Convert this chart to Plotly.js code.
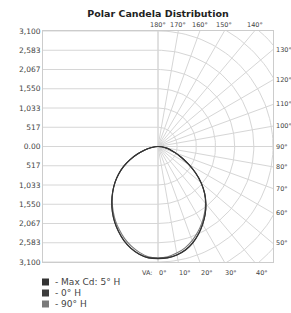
<!DOCTYPE html>
<html>
<head>
<meta charset="utf-8">
<script src="https://cdn.plot.ly/plotly-3.0.1.min.js"></script>
<style>html,body{margin:0;padding:0;background:#fff;}#chart{width:291px;height:313px;}</style>
</head>
<body>
<div id="chart"></div>
<script>
// ---- data ----
const chartTitle = "Polar Candela Distribution";
const maxCd = 3100;
const yTickValues = [-3100, -2583.33, -2066.67, -1550, -1033.33, -516.67, 0, 516.67, 1033.33, 1550, 2066.67, 2583.33, 3100];
const yTickLabels = ["3,100", "2,583", "2,067", "1,550", "1,033", "517", "0.00", "517", "1,033", "1,550", "2,067", "2,583", "3,100"];
const vAngles = [0, 5, 10, 15, 20, 25, 30, 35, 40, 45, 50, 55, 60, 65, 70, 75, 80, 85, 90];
const maxCdRight = [3010, 3000, 2955, 2875, 2750, 2590, 2410, 2220, 2010, 1780, 1520, 1240, 950, 700, 500, 340, 210, 100, 0];
const maxCdLeft  = [3010, 3000, 2935, 2830, 2690, 2520, 2340, 2145, 1940, 1730, 1520, 1300, 1070, 830, 590, 370, 200, 80, 0];
const zeroHRight = [3004, 2994, 2948, 2868, 2744, 2584, 2405, 2216, 2007, 1778, 1518, 1238, 948, 698, 499, 339, 209, 99, 0];
const zeroHLeft  = [3004, 2994, 2928, 2823, 2684, 2515, 2336, 2141, 1937, 1728, 1518, 1298, 1068, 828, 588, 369, 199, 79, 0];
const ninetyHRight = [2985, 2970, 2905, 2815, 2690, 2535, 2365, 2185, 1990, 1770, 1515, 1238, 948, 698, 499, 339, 209, 99, 0];
const ninetyHLeft  = [2985, 2970, 2885, 2770, 2630, 2465, 2295, 2110, 1920, 1722, 1515, 1298, 1068, 828, 588, 369, 199, 79, 0];
const seriesNames = ["Max Cd: 5° H", "0° H", "90° H"];
const seriesColors = ["#333333", "#3d3d3d", "#7a7a7a"];
const gridAngles = [0, 10, 20, 30, 40, 50, 60, 70, 80, 90, 100, 110, 120, 130, 140, 150, 160, 170, 180];
const bottomAngles = [0, 10, 20, 30, 40];
const bottomLabels = ["0°", "10°", "20°", "30°", "40°"];
const rightAngles = [50, 60, 70, 80, 90, 100, 110, 120, 130];
const rightLabels = ["50°", "60°", "70°", "80°", "90°", "100°", "110°", "120°", "130°"];
const topAngles = [140, 150, 160, 170, 180];
const topLabels = ["140°", "150°", "160°", "170°", "180°"];

// ---- helpers ----
const rad = d => d * Math.PI / 180;
function curve(right, left) {
  const xs = [], ys = [];
  for (let i = vAngles.length - 1; i >= 0; i--) {
    const a = rad(vAngles[i]);
    xs.push(-left[i] * Math.sin(a)); ys.push(-left[i] * Math.cos(a));
  }
  for (let i = 1; i < vAngles.length; i++) {
    const a = rad(vAngles[i]);
    xs.push(right[i] * Math.sin(a)); ys.push(-right[i] * Math.cos(a));
  }
  return {xs, ys};
}

// grid
const gx = [], gy = [];
const step = maxCd / 6;
yTickValues.forEach(v => { gx.push(-maxCd, 0, null); gy.push(v, v, null); });
gx.push(0, 0, null); gy.push(-maxCd, maxCd, null);
gridAngles.forEach(d => {
  const a = rad(d), L = maxCd * 1.5;
  gx.push(0, L * Math.sin(a), null); gy.push(0, -L * Math.cos(a), null);
});
for (let k = 1; k <= 8; k++) {
  const r = k * step;
  for (let d = 0; d <= 180; d += 2) {
    const a = rad(d);
    gx.push(r * Math.sin(a)); gy.push(-r * Math.cos(a));
  }
  gx.push(null); gy.push(null);
}

const traces = [{
  x: gx, y: gy, type: "scatter", mode: "lines",
  line: {color: "#d6d6d6", width: 1}, hoverinfo: "skip", showlegend: false
}];

const series = [
  [ninetyHRight, ninetyHLeft, 2],
  [zeroHRight, zeroHLeft, 1],
  [maxCdRight, maxCdLeft, 0]
];
series.forEach(([r, l, idx]) => {
  const c = curve(r, l);
  traces.push({
    x: c.xs, y: c.ys, type: "scatter", mode: "lines", name: seriesNames[idx],
    line: {color: seriesColors[idx], width: 1.1, shape: "spline", smoothing: 1},
    showlegend: false
  });
});

const lblFont = {family: "DejaVu Sans", size: 6.5, color: "#444"};
const annotations = [];
bottomAngles.forEach((d, i) => {
  const a = rad(d);
  annotations.push({x: maxCd * Math.tan(a), y: -maxCd, xref: "x", yref: "y", text: bottomLabels[i],
    showarrow: false, xanchor: "left", yanchor: "top", yshift: -5, xshift: -1, font: lblFont});
});
annotations.push({x: 0, y: -maxCd, xref: "x", yref: "y", text: "VA:", showarrow: false,
  xanchor: "right", yanchor: "top", yshift: -5, xshift: -3, font: lblFont});
rightAngles.forEach((d, i) => {
  const a = rad(d);
  annotations.push({x: maxCd, y: -maxCd * Math.cos(a) / Math.sin(a), xref: "x", yref: "y", text: rightLabels[i],
    showarrow: false, xanchor: "left", yanchor: "middle", xshift: 1, font: lblFont});
});
topAngles.forEach((d, i) => {
  const a = rad(d);
  annotations.push({x: -maxCd * Math.sin(a) / Math.cos(a), y: maxCd, xref: "x", yref: "y", text: topLabels[i],
    showarrow: false, xanchor: "center", yanchor: "bottom", yshift: 0, font: lblFont});
});
// legend rows (pixel rows converted to paper coords)
const plotTop = 31, plotH = 231, plotL = 43, plotW = 230;
const rowPx = [282, 293, 304];
const shapes = [];
seriesNames.forEach((n, i) => {
  const yc = (plotTop + plotH - rowPx[i]) / plotH;
  const h = 3.5 / plotH;
  shapes.push({type: "rect", xref: "paper", yref: "paper",
    x0: (42 - plotL) / plotW, x1: (49 - plotL) / plotW, y0: yc - h, y1: yc + h,
    fillcolor: seriesColors[i], line: {width: 0}});
  annotations.push({x: (53 - plotL) / plotW, y: yc, xref: "paper", yref: "paper", showarrow: false,
    xanchor: "left", yanchor: "middle", text: "- " + n,
    font: {family: "DejaVu Sans", size: 9, color: "#444"}});
});

const layout = {
  width: 291, height: 313,
  margin: {l: 43, r: 18, t: 31, b: 51, pad: 0},
  paper_bgcolor: "#fff", plot_bgcolor: "#fff",
  title: {text: chartTitle, x: 0.5, xref: "paper", xanchor: "center", y: 0.955, yref: "container", yanchor: "middle",
    font: {family: "DejaVu Sans", size: 9.5, color: "#222", weight: "bold"}},
  showlegend: false,
  xaxis: {range: [-maxCd, maxCd], showgrid: false, zeroline: false, showticklabels: false,
    showline: true, mirror: true, linecolor: "#cccccc", linewidth: 1, ticks: "", fixedrange: true},
  yaxis: {range: [-maxCd, maxCd], showgrid: false, zeroline: false, tickvals: yTickValues, ticktext: yTickLabels,
    tickfont: {family: "DejaVu Sans", size: 7.5, color: "#444"}, ticks: "",
    showline: true, mirror: true, linecolor: "#cccccc", linewidth: 1, fixedrange: true},
  shapes: shapes,
  annotations: annotations
};

Plotly.newPlot("chart", traces, layout, {displayModeBar: false, staticPlot: true});
</script>
</body>
</html>
